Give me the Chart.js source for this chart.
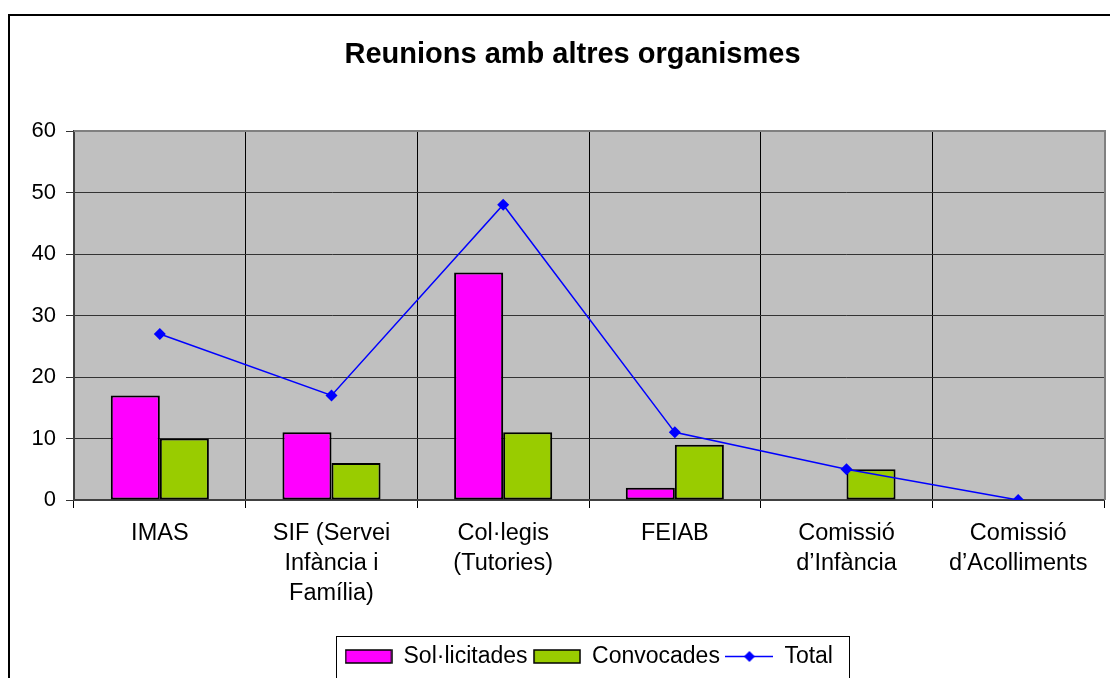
<!DOCTYPE html>
<html>
<head>
<meta charset="utf-8">
<script src="https://cdn.jsdelivr.net/npm/chart.js@4"></script>
<style>
  html, body { margin: 0; padding: 0; background: #fff; overflow: hidden; }
  #wrap { width: 1110px; height: 678px; }
</style>
</head>
<body>
<div id="wrap"><canvas id="chart"></canvas></div>
<script>
const categories = [
  ["IMAS"],
  ["SIF (Servei", "Infància i", "Família)"],
  ["Col·legis", "(Tutories)"],
  ["FEIAB"],
  ["Comissió", "d’Infància"],
  ["Comissió", "d’Acolliments"]
];
const solicitades = [17, 11, 37, 2, 0, 0];
const convocades = [10, 6, 11, 9, 5, 0];
const total = [27, 17, 48, 11, 5, 0];
const yTicks = [0, 10, 20, 30, 40, 50, 60];

const FONT = "'Liberation Sans', Arial, sans-serif";
const MAGENTA = "#ff00ff";
const GREEN = "#99cc00";
const BLUE = "#0000ff";

// legend icons
function barIcon(color) {
  const c = document.createElement("canvas");
  c.width = 48; c.height = 15;
  const g = c.getContext("2d");
  g.fillStyle = color;
  g.fillRect(1, 1, 46, 13);
  g.strokeStyle = "#000";
  g.lineWidth = 1.5;
  g.strokeRect(1, 1, 46, 13);
  return c;
}
function lineIcon() {
  const c = document.createElement("canvas");
  c.width = 48; c.height = 15;
  const g = c.getContext("2d");
  g.strokeStyle = BLUE;
  g.lineWidth = 1.5;
  g.beginPath(); g.moveTo(0, 7.5); g.lineTo(48, 7.5); g.stroke();
  g.fillStyle = BLUE;
  g.beginPath();
  g.moveTo(24, 2); g.lineTo(29.5, 7.5); g.lineTo(24, 13); g.lineTo(18.5, 7.5);
  g.closePath(); g.fill();
  return c;
}
const icons = [barIcon(MAGENTA), barIcon(GREEN), lineIcon()];

const frame = {
  id: "frame",
  afterLayout(chart) {
    // title is centred on the outer frame, not on the canvas
    if (chart.titleBlock) chart.titleBlock.left = 40;
  },
  beforeDraw(chart) {
    const { ctx, chartArea: a } = chart;
    ctx.save();
    ctx.fillStyle = "#c0c0c0";
    ctx.fillRect(a.left, a.top, a.right - a.left, a.bottom - a.top);
    ctx.restore();
  },
  beforeDatasetsDraw(chart) {
    const { ctx, chartArea: a } = chart;
    ctx.save();
    ctx.strokeStyle = "#808080";
    ctx.lineWidth = 2;
    ctx.beginPath();
    ctx.moveTo(a.left, a.top); ctx.lineTo(a.right + 1, a.top); ctx.lineTo(a.right + 1, a.bottom);
    ctx.stroke();
    ctx.restore();
  },
  afterDraw(chart) {
    const { ctx } = chart;
    ctx.save();
    // outer chart border
    ctx.strokeStyle = "#000";
    ctx.lineWidth = 2;
    ctx.strokeRect(9, 15, 1300, 800);
    // legend box
    const hb = chart.legend.legendHitBoxes;
    if (hb && hb.length) {
      const l = Math.min(...hb.map(h => h.left)) - 9;
      const r = Math.max(...hb.map(h => h.left + h.width)) + 16;
      const t = hb[0].top - 9;
      ctx.lineWidth = 1;
      ctx.strokeRect(Math.round(l) + 0.5, Math.round(t) + 0.5, Math.round(r - l), 200);
    }
    ctx.restore();
  }
};

new Chart(document.getElementById("chart"), {
  type: "bar",
  data: {
    labels: categories,
    datasets: [
      {
        label: "Sol·licitades",
        data: solicitades,
        backgroundColor: MAGENTA,
        borderColor: "#000",
        borderWidth: 2,
        borderSkipped: false,
        categoryPercentage: 2 / 3.5,
        barPercentage: 1,
        order: 1
      },
      {
        label: "Convocades",
        data: convocades,
        backgroundColor: GREEN,
        borderColor: "#000",
        borderWidth: 2,
        borderSkipped: false,
        categoryPercentage: 2 / 3.5,
        barPercentage: 1,
        order: 1
      },
      {
        type: "line",
        label: "Total",
        data: total,
        borderColor: BLUE,
        backgroundColor: BLUE,
        borderWidth: 1.5,
        pointStyle: "rectRot",
        pointRadius: 6,
        pointBorderWidth: 0,
        tension: 0,
        order: 0
      }
    ]
  },
  options: {
    responsive: true,
    maintainAspectRatio: false,
    animation: false,
    layout: { padding: { top: 14, left: 0, right: 5, bottom: 0 } },
    plugins: {
      title: {
        display: true,
        text: "Reunions amb altres organismes",
        color: "#000",
        font: { family: FONT, size: 29, weight: "bold", lineHeight: 1.2 },
        padding: { top: 24, bottom: 58.2 }
      },
      legend: {
        position: "bottom",
        fullSize: false,
        labels: {
          usePointStyle: true,
          pointStyleWidth: 47,
          boxHeight: 13,
          padding: 6,
          color: "#000",
          font: { family: FONT, size: 23 },
          sort: (a, b) => a.datasetIndex - b.datasetIndex,
          generateLabels(chart) {
            const items = Chart.defaults.plugins.legend.labels.generateLabels(chart);
            items.forEach(it => { it.pointStyle = icons[it.datasetIndex]; });
            return items;
          }
        }
      },
      tooltip: { enabled: false }
    },
    scales: {
      x: {
        offset: true,
        grid: { offset: true, color: "#000", lineWidth: 1, tickLength: 8, tickColor: "#000" },
        border: { color: "#404040", width: 2 },
        ticks: {
          color: "#000",
          padding: 11,
          maxRotation: 0,
          autoSkip: false,
          font: { family: FONT, size: 23.5, lineHeight: 30 / 23.5 }
        },
        afterFit(scale) { scale.height = 139; }
      },
      y: {
        min: 0,
        max: 60,
        afterBuildTicks(scale) { scale.ticks = yTicks.map(v => ({ value: v })); },
        grid: { color: "#333", lineWidth: 1, tickLength: 8, tickColor: "#333" },
        border: { color: "#404040", width: 2 },
        ticks: {
          color: "#000",
          padding: 10,
          font: { family: FONT, size: 22 }
        },
        afterFit(scale) { scale.width = 74; }
      }
    }
  },
  plugins: [frame]
});
</script>
</body>
</html>
